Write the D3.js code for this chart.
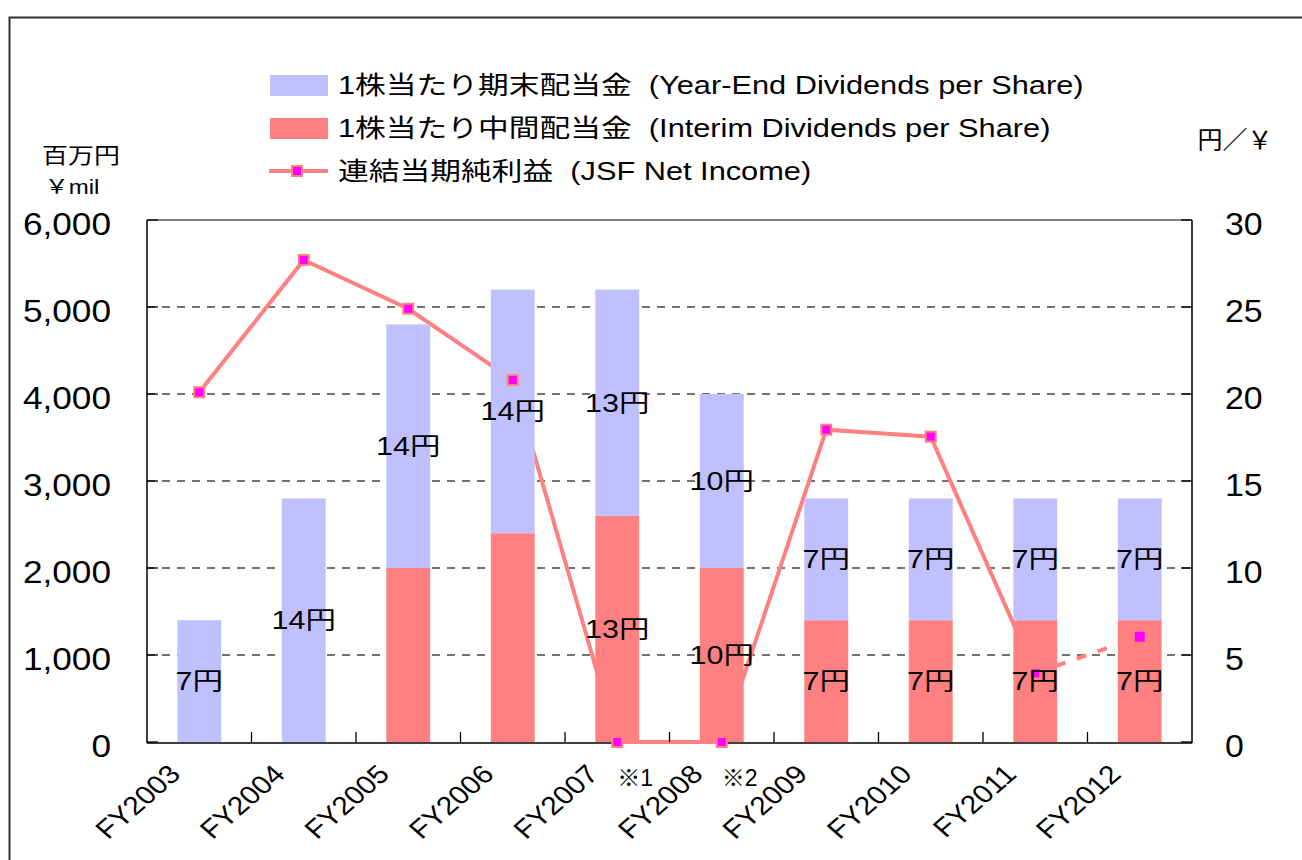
<!DOCTYPE html>
<html>
<head>
<meta charset="utf-8">
<script src="https://cdn.jsdelivr.net/npm/d3@7"></script>
<style>
  body { margin: 0; background: #fff; }
  svg text { font-family: "Liberation Sans", Arial, "Noto Sans CJK JP", sans-serif; fill: #000; white-space: pre; }
</style>
</head>
<body>
<svg id="chart" width="1302" height="860"></svg>
<script>
// categories and values
var years = ["FY2003", "FY2004", "FY2005", "FY2006", "FY2007", "FY2008", "FY2009", "FY2010", "FY2011", "FY2012"];
var interimDiv = [0, 0, 10, 12, 13, 10, 7, 7, 7, 7];        // 円
var yearEndDiv = [7, 14, 14, 14, 13, 10, 7, 7, 7, 7];       // 円
var netIncome = [4020, 5540, 4980, 4160, 0, 0, 3590, 3510, 790, 1210]; // ¥mil
var interimLabels = [null, null, null, null, "13円", "10円", "7円", "7円", "7円", "7円"];
var yearEndLabels = ["7円", "14円", "14円", "14円", "13円", "10円", "7円", "7円", "7円", "7円"];
var notes = [null, null, null, null, "※1", "※2", null, null, null, null];
var leftTicks = [0, 1000, 2000, 3000, 4000, 5000, 6000];
var rightTicks = [0, 5, 10, 15, 20, 25, 30];
var legendItems = [
	{ label: "1株当たり期末配当金  (Year-End Dividends per Share)", type: "bar", color: "#C0C0FF" },
	{ label: "1株当たり中間配当金  (Interim Dividends per Share)", type: "bar", color: "#FF8080" },
	{ label: "連結当期純利益  (JSF Net Income)", type: "line", color: "#FF8080" }
];

var svg = d3.select("#chart");
var plot = { left: 147, right: 1192, top: 220, bottom: 742 };

var x = d3.scaleBand().domain(years).range([plot.left, plot.right]).padding(0);
var yL = d3.scaleLinear().domain([0, 6000]).range([plot.bottom, plot.top]);
var yR = d3.scaleLinear().domain([0, 30]).range([plot.bottom, plot.top]);
var barW = x.bandwidth() * 0.42;
var cx = function (d) { return x(d) + x.bandwidth() / 2; };

// text stretched a little wider, like the original export
function wideText(g, px, py, sx, size, str, anchor) {
	return g.append("text")
		.attr("transform", "translate(" + px + "," + py + ") scale(" + sx + ",1)")
		.attr("font-size", size)
		.attr("text-anchor", anchor || "start")
		.text(str);
}

// outer frame
svg.append("rect")
	.attr("x", 9.5).attr("y", 17.5).attr("width", 1400).attr("height", 1000)
	.attr("fill", "none").attr("stroke", "#333").attr("stroke-width", 2);

// gridlines
svg.append("g").selectAll("line").data(leftTicks.slice(1, -1)).enter().append("line")
	.attr("x1", plot.left).attr("x2", plot.right)
	.attr("y1", function (d) { return yL(d); }).attr("y2", function (d) { return yL(d); })
	.attr("stroke", "#444").attr("stroke-width", 1.3).attr("stroke-dasharray", "8,7");

// x axis line
svg.append("line").attr("x1", plot.left).attr("x2", plot.right).attr("y1", plot.bottom + 1).attr("y2", plot.bottom + 1)
	.attr("stroke", "#000").attr("stroke-width", 1.5);

// net income line (drawn behind bars)
var lineGen = d3.line()
	.x(function (d, i) { return cx(years[i]); })
	.y(function (d) { return yL(d); });
var lineG = svg.append("g");
lineG.append("path")
	.datum(netIncome.slice(0, 9))
	.attr("d", lineGen)
	.attr("fill", "none").attr("stroke", "#FF8080").attr("stroke-width", 4);
lineG.append("path")
	.datum(netIncome.slice(8))
	.attr("d", d3.line().x(function (d, i) { return cx(years[i + 8]); }).y(function (d) { return yL(d); }))
	.attr("fill", "none").attr("stroke", "#FF8080").attr("stroke-width", 4)
	.attr("stroke-dasharray", "10,12");

// bars
var bars = svg.append("g");
bars.selectAll("rect.interim").data(years).enter().append("rect")
	.attr("class", "interim")
	.attr("x", function (d) { return cx(d) - barW / 2; })
	.attr("width", barW)
	.attr("y", function (d, i) { return yR(interimDiv[i]); })
	.attr("height", function (d, i) { return yR(0) - yR(interimDiv[i]); })
	.attr("fill", "#FF8080");
bars.selectAll("rect.yearend").data(years).enter().append("rect")
	.attr("class", "yearend")
	.attr("x", function (d) { return cx(d) - barW / 2; })
	.attr("width", barW)
	.attr("y", function (d, i) { return yR(interimDiv[i] + yearEndDiv[i]); })
	.attr("height", function (d, i) { return yR(interimDiv[i]) - yR(interimDiv[i] + yearEndDiv[i]); })
	.attr("fill", "#C0C0FF");

// plot frame
svg.append("line").attr("x1", plot.left).attr("x2", plot.right).attr("y1", plot.top).attr("y2", plot.top)
	.attr("stroke", "#555").attr("stroke-width", 1.5);
svg.append("line").attr("x1", plot.left).attr("x2", plot.left).attr("y1", plot.top).attr("y2", plot.bottom + 1)
	.attr("stroke", "#000").attr("stroke-width", 1.5);
svg.append("line").attr("x1", plot.right).attr("x2", plot.right).attr("y1", plot.top).attr("y2", plot.bottom + 1)
	.attr("stroke", "#000").attr("stroke-width", 1.5);

// ticks
svg.append("g").selectAll("line").data(leftTicks).enter().append("line")
	.attr("x1", plot.left).attr("x2", plot.left + 11)
	.attr("y1", function (d) { return yL(d); }).attr("y2", function (d) { return yL(d); })
	.attr("stroke", "#000").attr("stroke-width", 1.3);
svg.append("g").selectAll("line").data(rightTicks).enter().append("line")
	.attr("x1", plot.right - 11).attr("x2", plot.right)
	.attr("y1", function (d) { return yR(d); }).attr("y2", function (d) { return yR(d); })
	.attr("stroke", "#000").attr("stroke-width", 1.3);
svg.append("g").selectAll("line").data(years.slice(1)).enter().append("line")
	.attr("x1", function (d) { return x(d); }).attr("x2", function (d) { return x(d); })
	.attr("y1", plot.bottom - 10).attr("y2", plot.bottom)
	.attr("stroke", "#000").attr("stroke-width", 1.3);

// markers
svg.append("g").selectAll("rect").data(netIncome).enter().append("rect")
	.attr("x", function (d, i) { return cx(years[i]) - 5; })
	.attr("y", function (d) { return yL(d) - 5; })
	.attr("width", 10).attr("height", 10)
	.attr("fill", "#FF00FF")
	.attr("stroke", function (d, i) { return i == 9 ? "none" : "#FF8080"; })
	.attr("stroke-width", 2);

// data labels
var labG = svg.append("g");
years.forEach(function (d, i) {
	if (interimLabels[i]) {
		wideText(labG, cx(d), (yR(0) + yR(interimDiv[i])) / 2 + 9, 1.22, 25, interimLabels[i], "middle");
	}
	if (yearEndLabels[i]) {
		wideText(labG, cx(d), (yR(interimDiv[i]) + yR(interimDiv[i] + yearEndDiv[i])) / 2 + 9, 1.22, 25, yearEndLabels[i], "middle");
	}
});

// left tick labels
var lt = svg.append("g");
leftTicks.forEach(function (d) {
	wideText(lt, 111, yL(d) + 15, 1.1, 32, d3.format(",")(d), "end");
});

// right tick labels
var rt = svg.append("g");
rightTicks.forEach(function (d) {
	wideText(rt, 1225, yR(d) + 15, 1.06, 32, String(d), "start");
});

// x labels
svg.append("g").selectAll("text").data(years).enter().append("text")
	.attr("transform", function (d) { return "translate(" + (cx(d) - 32) + "," + 763 + ") scale(1.15,1) rotate(-45)"; })
	.attr("text-anchor", "end").attr("dy", "0.7em").attr("font-size", 26)
	.text(function (d) { return d; });

// notes
var ng = svg.append("g");
years.forEach(function (d, i) {
	if (notes[i]) {
		wideText(ng, cx(d), 786, 1.0, 23, notes[i], "start")
			.attr("font-family", "'Liberation Serif', 'Noto Serif CJK JP', 'Noto Sans CJK JP', serif");
	}
});

// axis titles
var tg = svg.append("g");
wideText(tg, 81, 163, 1.18, 22, "百万円", "middle");
wideText(tg, 72, 194, 1.2, 20, "￥mil", "middle");
wideText(tg, 1235, 149, 1.0, 25, "円／￥", "middle");

// legend
var leg = svg.append("g");
legendItems.forEach(function (it, i) {
	var ly = 85 + i * 43;
	if (it.type == "bar") {
		leg.append("rect").attr("x", 270).attr("y", ly - 10).attr("width", 58).attr("height", 21).attr("fill", it.color);
	} else {
		leg.append("line").attr("x1", 269).attr("x2", 328).attr("y1", ly).attr("y2", ly)
			.attr("stroke", it.color).attr("stroke-width", 4);
		leg.append("rect").attr("x", 292).attr("y", ly - 5).attr("width", 10).attr("height", 10)
			.attr("fill", "#FF00FF").attr("stroke", it.color).attr("stroke-width", 2);
	}
	wideText(leg, 338, ly + 9, 1.23, 25, it.label, "start");
});
</script>
</body>
</html>
